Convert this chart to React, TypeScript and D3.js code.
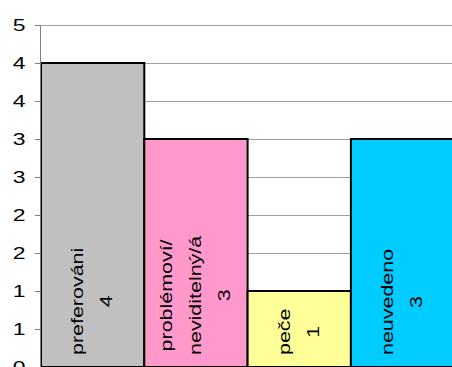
import React, { useEffect, useRef } from 'react';
import * as d3 from 'd3';

const categories = ['preferováni', 'problémoví/ neviditelný/á', 'peče', 'neuvedeno'];
const categoryLines = [['preferováni'], ['problémoví/', 'neviditelný/á'], ['peče'], ['neuvedeno']];
const values = [4, 3, 1, 3];
const barColors = ['#C0C0C0', '#FF99CC', '#FFFF99', '#00CCFF'];
const yTicks = [0, 0.5, 1, 1.5, 2, 2.5, 3, 3.5, 4, 4.5];

const W = 452;
const H = 367;
const FONT = "'Liberation Sans', Arial, sans-serif";

export default function App() {
  const ref = useRef<SVGSVGElement | null>(null);

  useEffect(() => {
    const svg = d3.select(ref.current);
    svg.selectAll('*').remove();

    const x = d3.scaleBand<string>().domain(categories).range([41, 454.2]).paddingInner(0).paddingOuter(0);
    const y = d3.scaleLinear().domain([0, 4.5]).range([367, 25]);
    const axisColor = '#808080';

    // gridlines
    svg.append('g')
      .selectAll('line')
      .data(yTicks.filter((t) => t > 0))
      .join('line')
      .attr('x1', 41)
      .attr('x2', W)
      .attr('y1', (d) => Math.round(y(d)) + 0.5)
      .attr('y2', (d) => Math.round(y(d)) + 0.5)
      .attr('stroke', '#a0a0a0')
      .attr('stroke-width', 1);

    // bars
    svg.append('g')
      .selectAll('rect')
      .data(values)
      .join('rect')
      .attr('x', (_, i) => x(categories[i])!)
      .attr('y', (d) => y(d))
      .attr('width', x.bandwidth())
      .attr('height', (d) => y(0) - y(d))
      .attr('fill', (_, i) => barColors[i])
      .attr('stroke', '#000')
      .attr('stroke-width', 2);

    // y axis line
    svg.append('line')
      .attr('x1', 40.5).attr('x2', 40.5)
      .attr('y1', y(0)).attr('y2', Math.round(y(4.5)))
      .attr('stroke', axisColor).attr('stroke-width', 1);

    // ticks and labels
    const tg = svg.append('g');
    yTicks.forEach((t) => {
      const yy = Math.round(y(t)) + 0.5;
      tg.append('line')
        .attr('x1', 35).attr('x2', 41)
        .attr('y1', yy).attr('y2', yy)
        .attr('stroke', axisColor).attr('stroke-width', 1);
      tg.append('text')
        .attr('transform', `translate(25.5,${y(t) + 6.3}) scale(1.35,1)`)
        .attr('text-anchor', 'end')
        .attr('font-family', FONT)
        .attr('font-size', 17)
        .attr('fill', '#000')
        .text(String(Math.round(t)));
    });

    // bar labels (rotated, inside base)
    const sx = 1.34;
    const lineGap = 29;
    const lg = svg.append('g');
    values.forEach((v, i) => {
      const lines = [...categoryLines[i], String(v)];
      const cx = x(categories[i])! + x.bandwidth() / 2;
      const nodes = lines.map((ln) =>
        lg.append('text')
          .attr('text-anchor', 'middle')
          .attr('font-family', FONT)
          .attr('font-size', 16)
          .attr('fill', '#000')
          .text(ln)
      );
      const maxLen = Math.max(...nodes.map((n) => (n.node() as SVGTextElement).getComputedTextLength())) * sx;
      const cy = y(0) - 12 - maxLen / 2;
      const n = lines.length;
      nodes.forEach((nd, k) => {
        const bx = cx + 5 + (k - (n - 1) / 2) * lineGap;
        nd.attr('transform', `translate(${bx},${cy}) rotate(-90) scale(${sx},1)`);
      });
    });
  }, []);

  return (
    <svg
      ref={ref}
      width={W}
      height={H}
      style={{ position: 'fixed', left: 0, top: 0, background: '#fff' }}
    />
  );
}
